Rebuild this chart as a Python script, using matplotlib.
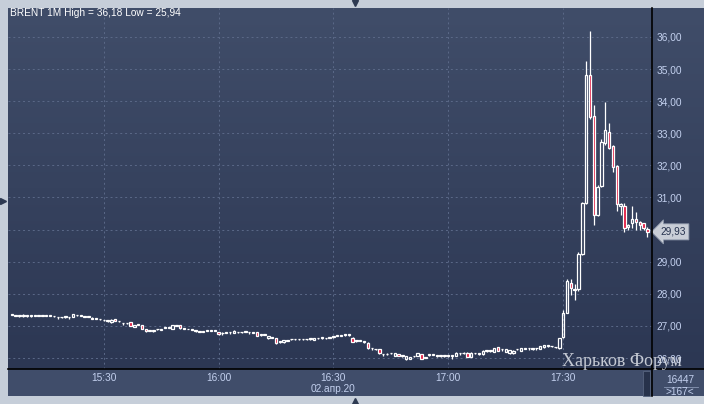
import numpy as np
import matplotlib
matplotlib.use("Agg")
import matplotlib.pyplot as plt
from matplotlib.colors import LinearSegmentedColormap
from matplotlib.patches import Rectangle
from matplotlib.lines import Line2D

# ------------------------
# DATA: BRENT 1M, 02.apr.20, one candle per minute from 15:06
# ------------------------
start_minute = 6          # minutes after 15:00 of the first candle
tick_minutes = [30, 60, 90, 120, 150]
tick_labels = ["15:30", "16:00", "16:30\n02.апр.20", "17:00", "17:30"]
price_ticks = [26, 27, 28, 29, 30, 31, 32, 33, 34, 35, 36]
volume_label = "16447"

opens = [
    27.34, 27.33, 27.32, 27.30, 27.32, 27.32, 27.31, 27.31, 27.31, 27.31,
    27.31, 27.30, 27.27, 27.27, 27.29, 27.27, 27.28, 27.33, 27.31, 27.29,
    27.29, 27.26, 27.22, 27.21, 27.18, 27.16, 27.11, 27.21, 27.14, 27.08,
    27.08, 27.11, 26.97, 27.03, 27.03, 26.90, 26.85, 26.85, 26.90, 26.87,
    26.94, 26.95, 26.92, 27.00, 27.03, 26.92, 26.90, 26.87, 26.84, 26.82,
    26.82, 26.84, 26.85, 26.84, 26.80, 26.77, 26.79, 26.80, 26.79, 26.80,
    26.80, 26.82, 26.80, 26.79, 26.80, 26.72, 26.72, 26.61, 26.63, 26.61,
    26.51, 26.49, 26.54, 26.58, 26.58, 26.58, 26.58, 26.58, 26.59, 26.56,
    26.61, 26.63, 26.61, 26.64, 26.66, 26.69, 26.69, 26.72, 26.72, 26.64,
    26.54, 26.53, 26.51, 26.48, 26.30, 26.27, 26.27, 26.12, 26.12, 26.15,
    26.07, 26.13, 26.07, 25.97, 25.97, 26.05, 26.07, 26.13, 26.00, 26.10,
    26.10, 26.08, 26.08, 26.07, 26.07, 26.07, 26.07, 26.15, 26.15, 26.17,
    26.03, 26.15, 26.13, 26.12, 26.23, 26.23, 26.20, 26.33, 26.27, 26.20,
    26.15, 26.15, 26.27, 26.23, 26.28, 26.30, 26.29, 26.30, 26.29, 26.33,
    26.38, 26.37, 26.33, 26.30, 26.66, 27.41, 28.33, 28.12, 28.14, 29.24,
    30.83, 34.82, 33.54, 30.45, 31.37, 32.69, 33.05, 32.60, 31.99, 30.72,
    30.73, 30.07, 30.21, 30.32, 30.25, 30.21, 30.02,
]
highs = [
    27.35, 27.34, 27.33, 27.36, 27.33, 27.35, 27.32, 27.32, 27.32, 27.32,
    27.32, 27.31, 27.28, 27.28, 27.32, 27.28, 27.38, 27.34, 27.32, 27.30,
    27.30, 27.27, 27.23, 27.22, 27.19, 27.17, 27.21, 27.22, 27.15, 27.09,
    27.09, 27.12, 27.04, 27.04, 27.04, 26.91, 26.86, 26.88, 26.91, 26.88,
    26.95, 26.96, 27.04, 27.01, 27.04, 26.93, 26.91, 26.88, 26.85, 26.83,
    26.83, 26.85, 26.86, 26.85, 26.81, 26.80, 26.80, 26.81, 26.86, 26.81,
    26.81, 26.83, 26.81, 26.80, 26.81, 26.73, 26.73, 26.69, 26.64, 26.62,
    26.52, 26.57, 26.55, 26.59, 26.59, 26.59, 26.59, 26.59, 26.62, 26.62,
    26.62, 26.66, 26.62, 26.65, 26.69, 26.70, 26.70, 26.73, 26.73, 26.65,
    26.57, 26.54, 26.52, 26.49, 26.31, 26.28, 26.28, 26.13, 26.15, 26.16,
    26.16, 26.14, 26.08, 26.06, 26.04, 26.08, 26.16, 26.14, 26.01, 26.11,
    26.11, 26.09, 26.09, 26.10, 26.08, 26.08, 26.18, 26.16, 26.18, 26.18,
    26.18, 26.16, 26.14, 26.24, 26.24, 26.24, 26.31, 26.34, 26.28, 26.28,
    26.26, 26.24, 26.28, 26.31, 26.29, 26.31, 26.32, 26.31, 26.38, 26.41,
    26.39, 26.38, 26.34, 26.64, 27.50, 28.45, 28.45, 28.30, 29.30, 30.86,
    35.26, 36.18, 33.88, 31.38, 32.82, 33.98, 33.31, 32.62, 32.01, 30.82,
    30.84, 30.16, 30.74, 30.55, 30.27, 30.22, 30.08,
]
lows = [
    27.33, 27.31, 27.29, 27.29, 27.28, 27.29, 27.30, 27.30, 27.30, 27.30,
    27.30, 27.29, 27.23, 27.26, 27.26, 27.23, 27.27, 27.32, 27.30, 27.28,
    27.28, 27.21, 27.21, 27.20, 27.17, 27.12, 27.10, 27.14, 27.13, 27.04,
    27.07, 26.99, 26.96, 27.02, 26.89, 26.82, 26.84, 26.81, 26.86, 26.86,
    26.93, 26.94, 26.91, 26.99, 26.92, 26.91, 26.89, 26.86, 26.80, 26.81,
    26.81, 26.83, 26.84, 26.83, 26.73, 26.73, 26.78, 26.76, 26.78, 26.79,
    26.79, 26.81, 26.76, 26.78, 26.68, 26.68, 26.71, 26.60, 26.62, 26.45,
    26.47, 26.48, 26.53, 26.57, 26.57, 26.57, 26.57, 26.57, 26.56, 26.55,
    26.60, 26.60, 26.60, 26.63, 26.63, 26.68, 26.68, 26.68, 26.68, 26.50,
    26.51, 26.52, 26.47, 26.29, 26.26, 26.26, 26.14, 26.08, 26.09, 26.14,
    26.06, 26.06, 26.03, 25.94, 25.96, 26.02, 26.06, 25.96, 25.99, 26.06,
    26.09, 26.04, 26.04, 26.04, 26.03, 25.97, 26.06, 26.11, 26.12, 26.02,
    26.02, 26.14, 26.09, 26.11, 26.19, 26.19, 26.19, 26.22, 26.23, 26.19,
    26.14, 26.14, 26.26, 26.22, 26.27, 26.26, 26.26, 26.26, 26.28, 26.32,
    26.34, 26.33, 26.32, 26.29, 26.64, 27.40, 27.96, 27.82, 28.10, 29.20,
    30.80, 33.45, 30.14, 30.42, 31.34, 32.64, 32.52, 31.80, 30.59, 30.45,
    29.94, 30.00, 30.05, 30.00, 30.00, 30.00, 29.78,
]
closes = [
    27.34, 27.32, 27.32, 27.35, 27.32, 27.32, 27.31, 27.31, 27.31, 27.31,
    27.31, 27.30, 27.27, 27.27, 27.29, 27.27, 27.37, 27.33, 27.31, 27.29,
    27.29, 27.22, 27.22, 27.21, 27.18, 27.16, 27.20, 27.15, 27.14, 27.08,
    27.08, 27.00, 27.03, 27.03, 26.90, 26.83, 26.85, 26.85, 26.90, 26.87,
    26.94, 26.95, 27.03, 27.00, 26.93, 26.92, 26.90, 26.87, 26.84, 26.82,
    26.82, 26.84, 26.85, 26.84, 26.74, 26.77, 26.79, 26.80, 26.85, 26.80,
    26.80, 26.82, 26.80, 26.79, 26.69, 26.72, 26.72, 26.68, 26.63, 26.46,
    26.51, 26.56, 26.54, 26.58, 26.58, 26.58, 26.58, 26.58, 26.59, 26.61,
    26.61, 26.63, 26.61, 26.64, 26.66, 26.69, 26.69, 26.72, 26.72, 26.51,
    26.54, 26.53, 26.51, 26.30, 26.30, 26.27, 26.15, 26.12, 26.12, 26.15,
    26.15, 26.07, 26.07, 26.05, 26.03, 26.05, 26.15, 25.97, 26.00, 26.10,
    26.10, 26.08, 26.08, 26.07, 26.07, 26.07, 26.17, 26.15, 26.15, 26.03,
    26.17, 26.15, 26.13, 26.23, 26.23, 26.23, 26.30, 26.23, 26.27, 26.27,
    26.25, 26.23, 26.27, 26.30, 26.28, 26.30, 26.29, 26.30, 26.37, 26.40,
    26.38, 26.37, 26.33, 26.63, 27.41, 28.41, 28.17, 28.16, 29.24, 30.83,
    34.82, 33.52, 30.45, 31.34, 32.74, 33.10, 32.55, 31.94, 30.80, 30.79,
    30.05, 30.14, 30.32, 30.23, 30.14, 30.04, 29.93,
]

# ------------------------
# LAYOUT (pixels of a 704x404 picture)
# ------------------------
W, H = 704, 404
def fx(px):
    return px / W
def fy(py):
    return 1 - py / H

FG = "#c3d0ee"
BORDER = "#c6ced9"
plt.rcParams["font.family"] = ["Liberation Sans", "DejaVu Sans"]

fig = plt.figure(figsize=(W / 100, H / 100), dpi=100)
fig.patch.set_facecolor(BORDER)

# gradient background of chart + price panel
bg = fig.add_axes([fx(8), fy(369), fx(704) - fx(8), fy(8) - fy(369)], zorder=0)
cmap = LinearSegmentedColormap.from_list("bg", ["#404d69", "#2c3753"])
bg.imshow(np.linspace(0, 1, 256).reshape(-1, 1), cmap=cmap, aspect="auto",
          extent=(0, 1, 0, 1))
bg.set_axis_off()

# bottom time strip
fig.add_artist(Rectangle((fx(8), fy(396)), fx(704) - fx(8), fy(369) - fy(396),
                         transform=fig.transFigure, facecolor="#404d6a",
                         edgecolor="none", zorder=0.5))

ax = fig.add_axes([fx(8), fy(369), fx(652) - fx(8), fy(8) - fy(369)], zorder=2)
ax.set_facecolor("none")

o = np.array(opens)
h = np.array(highs)
l = np.array(lows)
c = np.array(closes)
x = start_minute + np.arange(len(c))

up = c >= o
top = np.maximum(o, c)
bot = np.minimum(o, c)
body_h = np.maximum(top - bot, 0.02)

# wicks (outside the bodies)
ax.vlines(x, top, h, color="white", lw=0.9, zorder=3)
ax.vlines(x, l, bot, color="white", lw=0.9, zorder=3)
# bodies: hollow up, red down
ax.bar(x[up], body_h[up], bottom=bot[up], width=0.62, facecolor="none",
       edgecolor="white", linewidth=0.9, zorder=4)
ax.bar(x[~up], body_h[~up], bottom=bot[~up], width=0.62, facecolor="#e0143c",
       edgecolor="white", linewidth=0.9, zorder=4)

ax.set_xlim(5.0, 173.2)
ax.set_ylim(25.66, 36.90)

ax.set_xticks(tick_minutes)
ax.set_xticklabels(tick_labels, linespacing=1.05)
ax.set_yticks(price_ticks)
# the 30,00 label sits under the last-price tag
ax.set_yticklabels(["" if abs(v - closes[-1]) < 0.5 else f"{v:.2f}".replace(".", ",")
                    for v in price_ticks])
ax.yaxis.tick_right()
ax.tick_params(axis="both", length=0, colors=FG, labelsize=7.3)
ax.tick_params(axis="x", pad=3)
ax.tick_params(axis="y", pad=3)
for s in ax.spines.values():
    s.set_visible(False)
ax.grid(True, color="#5b6988", linestyle=(0, (2, 3)), linewidth=0.7)
ax.set_axisbelow(True)

# separators
fig.add_artist(Line2D([fx(652), fx(652)], [fy(8), fy(396)], color="black",
                      lw=1.2, zorder=5))
fig.add_artist(Line2D([fx(8), fx(704)], [fy(369), fy(369)], color="black",
                      lw=1.2, zorder=5))

# little scroll box in the time strip
fig.add_artist(Rectangle((fx(643), fy(396)), fx(650) - fx(643), fy(371) - fy(396),
                         transform=fig.transFigure, facecolor="#27324b",
                         edgecolor="#56647f", lw=0.6, zorder=4))

# title
fig.text(fx(10), fy(13), f"BRENT 1M High = {max(highs):.2f} Low = {min(lows):.2f}".replace(".", ","),
         color="white", fontsize=7.3, va="center", ha="left")

# last price tag
ax.annotate(f"{closes[-1]:.2f}".replace(".", ","), xy=(1, closes[-1]),
            xycoords=("axes fraction", "data"), xytext=(6, 0),
            textcoords="offset points", ha="left", va="center",
            fontsize=7.3, color="#26324e", annotation_clip=False, zorder=6,
            bbox=dict(boxstyle="larrow,pad=0.3", fc="#c9ced7", ec="#8e98aa", lw=0.6))

# volume / count box
fig.text(fx(680), fy(380), volume_label, color=FG, fontsize=7.3, ha="center", va="center")
fig.add_artist(Line2D([fx(664), fx(698)], [fy(387), fy(387)], color="#8896b4", lw=0.6))
fig.text(fx(680), fy(392), f">{len(closes)}<", color=FG, fontsize=7.3, ha="center", va="center")

# watermark
fig.text(fx(562), fy(366), "Харьков Форум", family="Liberation Serif", fontsize=13,
         color="#dfe3ea", alpha=0.85, ha="left", va="baseline", zorder=10)

# small navigation arrows on the frame
for px, py, m in [(355, 3, "v"), (355, 401, "^"), (3, 201, ">")]:
    fig.add_artist(Line2D([fx(px)], [fy(py)], marker=m, markersize=4.5,
                          color="#2e3a52", linestyle="none"))

fig.savefig("out.png", dpi=100, facecolor=fig.get_facecolor())
